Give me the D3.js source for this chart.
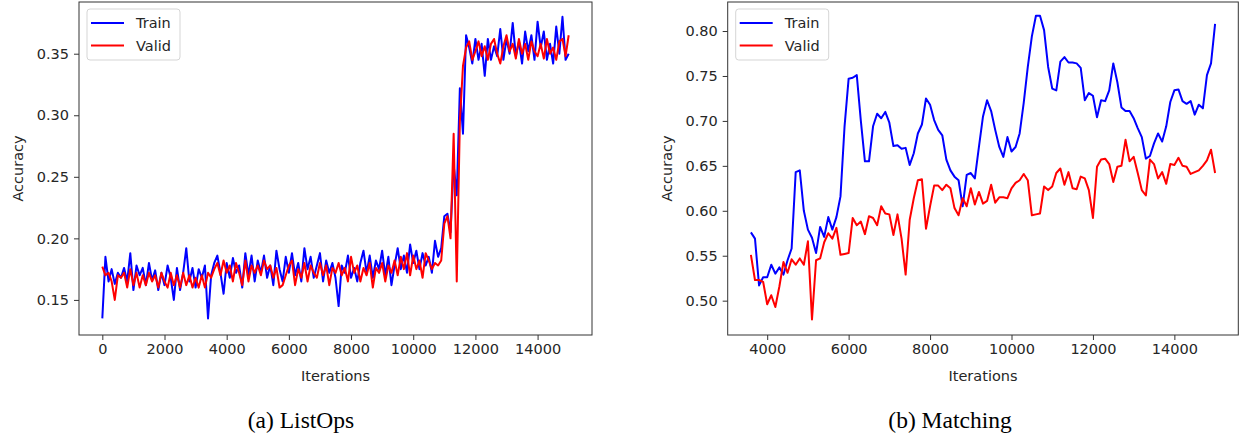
<!DOCTYPE html>
<html>
<head>
<meta charset="utf-8">
<script src="https://cdn.jsdelivr.net/npm/d3@7"></script>
<style>
  body { margin: 0; background: #fff; }
  svg { display: block; }
  .tick text { font-family: "DejaVu Sans", sans-serif; font-size: 14.5px; fill: #262626; }
</style>
</head>
<body>
<svg id="chart"></svg>
<script>
// ListOps (a): accuracy sampled every 100 iterations from 0 to 15000
const listopsIters = d3.range(0, 15001, 100);
const listopsTrain = [
  0.135, 0.185, 0.165, 0.175, 0.163, 0.172, 0.168, 0.176, 0.165, 0.188,
  0.158, 0.178, 0.170, 0.176, 0.162, 0.180, 0.166, 0.174, 0.158, 0.172,
  0.162, 0.178, 0.168, 0.150, 0.176, 0.158, 0.172, 0.192, 0.165, 0.176,
  0.160, 0.175, 0.168, 0.178, 0.135, 0.170, 0.180, 0.186, 0.172, 0.155,
  0.180, 0.168, 0.184, 0.172, 0.178, 0.160, 0.188, 0.170, 0.186, 0.165,
  0.182, 0.172, 0.186, 0.168, 0.178, 0.162, 0.190, 0.175, 0.165, 0.185,
  0.172, 0.188, 0.170, 0.180, 0.165, 0.192, 0.175, 0.185, 0.168, 0.178,
  0.188, 0.165, 0.182, 0.172, 0.180, 0.168, 0.145, 0.178, 0.172, 0.186,
  0.168, 0.176, 0.165, 0.180, 0.190, 0.172, 0.186, 0.168, 0.182, 0.175,
  0.190, 0.170, 0.185, 0.162, 0.178, 0.192, 0.175, 0.186, 0.172, 0.195,
  0.180, 0.190, 0.175, 0.188, 0.178, 0.185, 0.172, 0.198, 0.185, 0.192,
  0.218, 0.220, 0.205, 0.260, 0.235, 0.322, 0.285, 0.365, 0.355, 0.342,
  0.362, 0.345, 0.358, 0.332, 0.362, 0.345, 0.356, 0.348, 0.370, 0.345,
  0.362, 0.350, 0.375, 0.348, 0.360, 0.342, 0.368, 0.352, 0.365, 0.345,
  0.376, 0.355, 0.368, 0.345, 0.358, 0.342, 0.372, 0.350, 0.380, 0.345,
  0.350
];
const listopsValid = [
  0.177, 0.170, 0.172, 0.165, 0.150, 0.170, 0.168, 0.172, 0.160, 0.175,
  0.162, 0.172, 0.160, 0.170, 0.162, 0.172, 0.165, 0.170, 0.160, 0.172,
  0.165, 0.160, 0.172, 0.162, 0.170, 0.160, 0.172, 0.162, 0.170, 0.160,
  0.168, 0.160, 0.170, 0.160, 0.172, 0.168, 0.175, 0.180, 0.170, 0.182,
  0.172, 0.178, 0.165, 0.180, 0.172, 0.162, 0.182, 0.165, 0.178, 0.172,
  0.178, 0.170, 0.182, 0.175, 0.178, 0.168, 0.176, 0.160, 0.162, 0.170,
  0.178, 0.182, 0.162, 0.175, 0.168, 0.180, 0.165, 0.178, 0.172, 0.168,
  0.180, 0.170, 0.178, 0.162, 0.176, 0.172, 0.180, 0.170, 0.176, 0.165,
  0.185, 0.172, 0.178, 0.165, 0.176, 0.170, 0.180, 0.160, 0.176, 0.172,
  0.180, 0.165, 0.178, 0.172, 0.182, 0.170, 0.185, 0.175, 0.188, 0.170,
  0.186, 0.175, 0.182, 0.168, 0.188, 0.182, 0.175, 0.180, 0.178, 0.182,
  0.212, 0.218, 0.200, 0.285, 0.165, 0.295, 0.340, 0.355, 0.360, 0.345,
  0.352, 0.360, 0.348, 0.356, 0.345, 0.358, 0.362, 0.350, 0.342, 0.356,
  0.365, 0.352, 0.358, 0.346, 0.362, 0.350, 0.358, 0.345, 0.360, 0.352,
  0.348, 0.358, 0.346, 0.362, 0.350, 0.355, 0.345, 0.360, 0.362, 0.348,
  0.365
];
const listopsXTicks = [0, 2000, 4000, 6000, 8000, 10000, 12000, 14000];
const listopsYTicks = [0.15, 0.20, 0.25, 0.30, 0.35];

// Matching (b): accuracy sampled every 100 iterations from 3600 to 15000
const matchingIters = d3.range(3600, 15001, 100);
const matchingTrain = [
  0.576, 0.569, 0.517, 0.526,
  0.526, 0.540, 0.530, 0.537, 0.529, 0.545, 0.558, 0.643, 0.645, 0.600,
  0.579, 0.570, 0.553, 0.582, 0.571, 0.593, 0.579, 0.593, 0.616, 0.694,
  0.747, 0.748, 0.751, 0.700, 0.655, 0.655, 0.694, 0.708, 0.703, 0.710,
  0.698, 0.672, 0.673, 0.669, 0.670, 0.651, 0.664, 0.686, 0.696, 0.725,
  0.718, 0.701, 0.690, 0.684, 0.657, 0.645, 0.638, 0.634, 0.605, 0.640,
  0.642, 0.636, 0.671, 0.705, 0.723, 0.711, 0.690, 0.671, 0.660, 0.682,
  0.666, 0.671, 0.686, 0.720, 0.760, 0.794, 0.817, 0.817, 0.801, 0.760,
  0.736, 0.734, 0.766, 0.771, 0.765, 0.765, 0.764, 0.759, 0.723, 0.731,
  0.728, 0.704, 0.723, 0.722, 0.734, 0.764, 0.743, 0.715, 0.711, 0.711,
  0.703, 0.692, 0.682, 0.658, 0.661, 0.675, 0.686, 0.677, 0.694, 0.721,
  0.734, 0.735, 0.722, 0.719, 0.722, 0.707, 0.718, 0.714, 0.751, 0.764,
  0.808
];
const matchingValid = [
  0.551, 0.523, 0.523, 0.521,
  0.496, 0.506, 0.493, 0.516, 0.543, 0.531, 0.546, 0.540, 0.547, 0.540,
  0.566, 0.479, 0.545, 0.547, 0.565, 0.575, 0.569, 0.581, 0.551, 0.552,
  0.553, 0.592, 0.584, 0.588, 0.574, 0.594, 0.592, 0.584, 0.605, 0.597,
  0.596, 0.573, 0.596, 0.569, 0.529, 0.590, 0.614, 0.634, 0.635, 0.580,
  0.605, 0.628, 0.628, 0.623, 0.629, 0.625, 0.603, 0.595, 0.614, 0.605,
  0.625, 0.607, 0.621, 0.608, 0.611, 0.629, 0.609, 0.615, 0.615, 0.614,
  0.625, 0.631, 0.634, 0.641, 0.634, 0.595, 0.596, 0.597, 0.627, 0.623,
  0.627, 0.642, 0.647, 0.629, 0.643, 0.625, 0.624, 0.638, 0.636, 0.623,
  0.592, 0.649, 0.657, 0.658, 0.652, 0.632, 0.649, 0.650, 0.679, 0.655,
  0.660, 0.642, 0.623, 0.617, 0.657, 0.652, 0.636, 0.643, 0.630, 0.652,
  0.651, 0.659, 0.650, 0.649, 0.641, 0.643, 0.645, 0.650, 0.656, 0.668,
  0.642
];
const matchingXTicks = [4000, 6000, 8000, 10000, 12000, 14000];
const matchingYTicks = [0.50, 0.55, 0.60, 0.65, 0.70, 0.75, 0.80];

const seriesNames = ["Train", "Valid"];
const seriesColors = ["#0000ff", "#ff0000"];

const width = 1243, height = 436;
const svg = d3.select("#chart").attr("width", width).attr("height", height);

function drawPanel(opt) {
    const x = d3.scaleLinear().domain(opt.xDomain).range([opt.left, opt.right]);
    const y = d3.scaleLinear().domain(opt.yDomain).range([opt.bottom, opt.top]);
    const g = svg.append("g");

    // clip so lines stay inside the axes box
    g.append("clipPath").attr("id", opt.id + "-clip")
        .append("rect")
        .attr("x", opt.left).attr("y", opt.top)
        .attr("width", opt.right - opt.left).attr("height", opt.bottom - opt.top);

    const line = d3.line()
        .x(d => x(d[0]))
        .y(d => y(d[1]));

    [opt.train, opt.valid].forEach((vals, i) => {
        g.append("path")
            .datum(opt.iters.map((it, k) => [it, vals[k]]))
            .attr("clip-path", `url(#${opt.id}-clip)`)
            .attr("fill", "none")
            .attr("stroke", seriesColors[i])
            .attr("stroke-width", 2)
            .attr("stroke-linejoin", "round")
            .attr("d", line);
    });

    // axes
    const xAxis = g.append("g")
        .attr("transform", `translate(0,${opt.bottom})`)
        .call(d3.axisBottom(x).tickValues(opt.xTicks).tickFormat(d3.format("d")).tickSize(5).tickPadding(4));
    const yAxis = g.append("g")
        .attr("transform", `translate(${opt.left},0)`)
        .call(d3.axisLeft(y).tickValues(opt.yTicks).tickFormat(d3.format(".2f")).tickSize(5).tickPadding(5));
    [xAxis, yAxis].forEach(a => {
        a.select(".domain").remove();
        a.selectAll(".tick line").attr("stroke", "#333").attr("stroke-width", 1);
    });

    // frame
    g.append("rect")
        .attr("x", opt.left).attr("y", opt.top)
        .attr("width", opt.right - opt.left).attr("height", opt.bottom - opt.top)
        .attr("fill", "none")
        .attr("stroke", "#333")
        .attr("stroke-width", 1);

    // axis titles
    g.append("text")
        .attr("x", (opt.left + opt.right) / 2)
        .attr("y", 381)
        .attr("text-anchor", "middle")
        .style("font-family", "DejaVu Sans, sans-serif")
        .style("font-size", "14.5px")
        .style("fill", "#262626")
        .text("Iterations");

    g.append("text")
        .attr("transform", `translate(${opt.left - 56},${(opt.top + opt.bottom) / 2}) rotate(-90)`)
        .attr("text-anchor", "middle")
        .style("font-family", "DejaVu Sans, sans-serif")
        .style("font-size", "14.5px")
        .style("fill", "#262626")
        .text("Accuracy");

    // legend
    const lg = g.append("g").attr("transform", `translate(${opt.left + 8},9)`);
    lg.append("rect")
        .attr("width", 93).attr("height", 51)
        .attr("rx", 3)
        .attr("fill", "#fff").attr("fill-opacity", 0.8)
        .attr("stroke", "#d5d5d5");
    seriesNames.forEach((name, i) => {
        const yy = 14 + i * 22.5;
        lg.append("line")
            .attr("x1", 4).attr("x2", 37)
            .attr("y1", yy).attr("y2", yy)
            .attr("stroke", seriesColors[i])
            .attr("stroke-width", 2);
        lg.append("text")
            .attr("x", 49).attr("y", yy)
            .attr("dy", "0.36em")
            .style("font-family", "DejaVu Sans, sans-serif")
            .style("font-size", "14.5px")
            .style("fill", "#262626")
            .text(name);
    });

    // caption
    svg.append("text")
        .attr("x", opt.captionX)
        .attr("y", 428)
        .attr("text-anchor", "middle")
        .style("font-family", "Liberation Serif, Times New Roman, serif")
        .style("font-size", "23.5px")
        .style("fill", "#000")
        .text(opt.caption);
}

drawPanel({
    id: "listops",
    left: 79, right: 592, top: 2, bottom: 335,
    xDomain: [-750, 15750], yDomain: [0.1215, 0.392],
    iters: listopsIters, train: listopsTrain, valid: listopsValid,
    xTicks: listopsXTicks, yTicks: listopsYTicks,
    caption: "(a) ListOps", captionX: 301
});

drawPanel({
    id: "matching",
    left: 727.7, right: 1238.3, top: 2, bottom: 335,
    xDomain: [3030, 15570], yDomain: [0.4618, 0.8323],
    iters: matchingIters, train: matchingTrain, valid: matchingValid,
    xTicks: matchingXTicks, yTicks: matchingYTicks,
    caption: "(b) Matching", captionX: 950
});
</script>
</body>
</html>
